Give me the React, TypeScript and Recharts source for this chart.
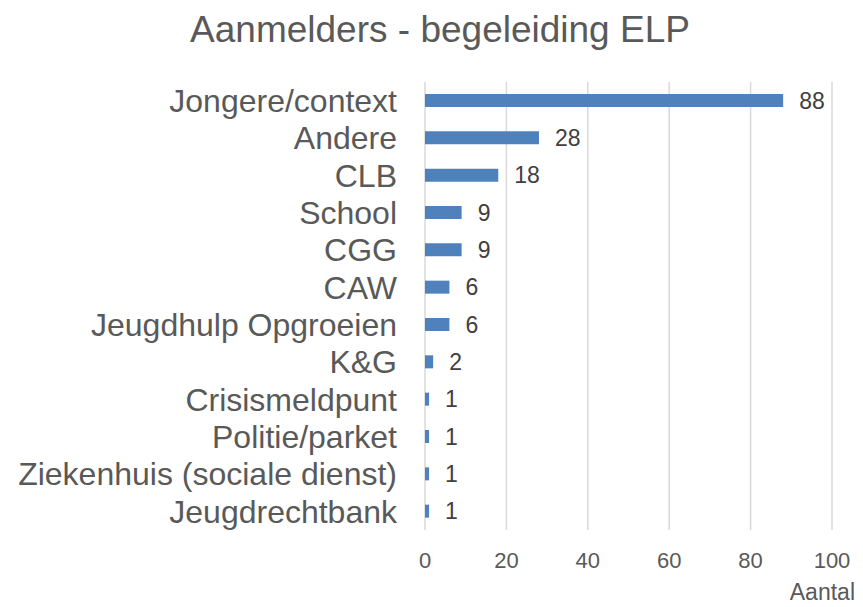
import React from 'react';
import { BarChart, Bar, XAxis, YAxis, CartesianGrid, LabelList } from 'recharts';

const categories = [
  'Jongere/context',
  'Andere',
  'CLB',
  'School',
  'CGG',
  'CAW',
  'Jeugdhulp Opgroeien',
  'K&G',
  'Crisismeldpunt',
  'Politie/parket',
  'Ziekenhuis (sociale dienst)',
  'Jeugdrechtbank',
];
const values = [88, 28, 18, 9, 9, 6, 6, 2, 1, 1, 1, 1];
const xTicks = [0, 20, 40, 60, 80, 100];

const data = categories.map((name, i) => ({ name, value: values[i] }));

const FONT = "'Liberation Sans', Arial, Helvetica, sans-serif";

const AantalLabel = (props: any) => {
  const vb = props.viewBox || {};
  return (
    <text
      x={vb.x + vb.width + 23}
      y={vb.y + vb.height - 7}
      textAnchor="end"
      fill="#595959"
      fontSize={23}
      fontFamily={FONT}
    >
      Aantal
    </text>
  );
};

export default function App() {
  return (
    <div style={{ position: 'absolute', left: 0, top: 0, width: 863, height: 607, background: '#fff', fontFamily: FONT }}>
      <svg width={863} height={60} style={{ position: 'absolute', left: 0, top: 0 }}>
        <text x={440} y={42} textAnchor="middle" fill="#595959" fontSize={37} fontFamily={FONT}>
          Aanmelders - begeleiding ELP
        </text>
      </svg>
      <BarChart
        width={863}
        height={607}
        data={data}
        layout="vertical"
        margin={{ top: 82, right: 31, bottom: 0, left: 0 }}
        style={{ fontFamily: FONT }}
      >
        <CartesianGrid horizontal={false} vertical={true} stroke="#d9d9d9" strokeWidth={1.5} />
        <XAxis
          type="number"
          domain={[0, 100]}
          ticks={xTicks}
          axisLine={false}
          tickLine={false}
          tickSize={0}
          tickMargin={22}
          height={77}
          tick={{ fill: '#595959', fontSize: 22, fontFamily: FONT }}
          label={<AantalLabel />}
        />
        <YAxis
          type="category"
          dataKey="name"
          width={425}
          axisLine={false}
          tickLine={false}
          tickSize={0}
          tickMargin={28}
          interval={0}
          tick={{ fill: '#595959', fontSize: 32, fontFamily: FONT }}
        />
        <Bar dataKey="value" fill="#4f81bd" barSize={13} isAnimationActive={false}>
          <LabelList
            dataKey="value"
            position="right"
            offset={16}
            fill="#404040"
            fontSize={23}
            fontFamily={FONT}
          />
        </Bar>
      </BarChart>
    </div>
  );
}
